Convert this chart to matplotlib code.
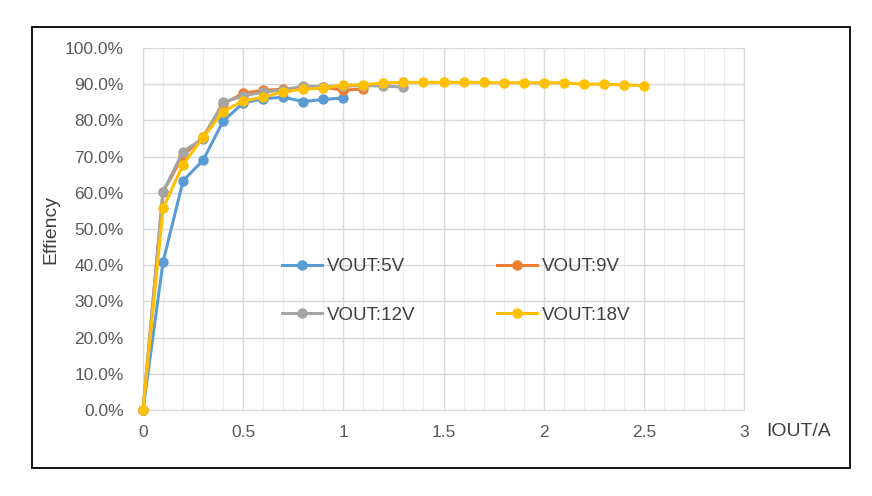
import numpy as np
import matplotlib.pyplot as plt
from matplotlib.patches import Rectangle
from matplotlib.ticker import MultipleLocator, PercentFormatter

plt.rcParams['font.family'] = ['Liberation Sans', 'DejaVu Sans']

# efficiency data (%)
iout_5v = [0, 0.1, 0.2, 0.3, 0.4, 0.5, 0.6, 0.7, 0.8, 0.9, 1.0]
eff_5v = [0, 40.9, 63.3, 69.0, 79.8, 84.8, 86.0, 86.4, 85.2, 85.8, 86.2]

iout_9v = [0, 0.1, 0.2, 0.3, 0.4, 0.5, 0.6, 0.7, 0.8, 0.9, 1.0, 1.1]
eff_9v = [0, 60.3, 70.2, 75.5, 84.5, 87.5, 88.3, 88.6, 89.0, 89.2, 88.3, 88.7]

iout_12v = [0, 0.1, 0.2, 0.3, 0.4, 0.5, 0.6, 0.7, 0.8, 0.9, 1.0, 1.1, 1.2, 1.3]
eff_12v = [0, 60.3, 71.4, 75.0, 85.0, 86.8, 87.8, 88.5, 89.4, 89.3, 89.5, 89.6, 89.5, 89.2]

iout_18v = [0, 0.1, 0.2, 0.3, 0.4, 0.5, 0.6, 0.7, 0.8, 0.9, 1.0, 1.1, 1.2, 1.3,
            1.4, 1.5, 1.6, 1.7, 1.8, 1.9, 2.0, 2.1, 2.2, 2.3, 2.4, 2.5]
eff_18v = [0, 55.7, 67.8, 75.3, 82.4, 85.4, 86.4, 87.9, 88.6, 88.9, 89.8, 89.8, 90.4, 90.5,
           90.5, 90.5, 90.5, 90.5, 90.4, 90.4, 90.4, 90.4, 90.0, 90.0, 89.8, 89.6]

series = [
    (iout_5v, eff_5v, 'VOUT:5V', '#5B9BD5'),
    (iout_9v, eff_9v, 'VOUT:9V', '#ED7D31'),
    (iout_12v, eff_12v, 'VOUT:12V', '#A5A5A5'),
    (iout_18v, eff_18v, 'VOUT:18V', '#FFC000'),
]

W, H = 872, 496
fig = plt.figure(figsize=(W / 100, H / 100), dpi=100)
ax = fig.add_axes([143 / W, 1 - 410 / H, (744 - 143) / W, (410 - 48) / H])

# outer frame
fig.patches.append(Rectangle((32 / W, 1 - 468 / H), (850 - 32) / W, (468 - 27) / H,
                             transform=fig.transFigure, fill=False,
                             edgecolor='black', linewidth=1.3))

lines = {}
for x, y, lab, col in series:
    ln, = ax.plot(x, y, color=col, lw=2.2, marker='o', ms=6.5, label=lab,
                  clip_on=False, zorder=3)
    lines[lab] = ln

ax.set_xlim(0, 3)
ax.set_ylim(0, 100)
ax.xaxis.set_major_locator(MultipleLocator(0.5))
ax.xaxis.set_minor_locator(MultipleLocator(0.1))
ax.yaxis.set_major_locator(MultipleLocator(10))
ax.yaxis.set_major_formatter(PercentFormatter(decimals=1))
ax.xaxis.set_major_formatter(lambda v, p: f'{v:g}')

ax.grid(which='major', color='#D9D9D9', lw=1.0, zorder=0)
ax.grid(which='minor', axis='x', color='#EDEDED', lw=0.9, zorder=0)
ax.set_axisbelow(True)
for s in ax.spines.values():
    s.set_color('#D9D9D9')
ax.tick_params(which='both', length=0, colors='#595959', labelsize=12.5)
ax.tick_params(axis='x', pad=11)
ax.tick_params(axis='y', pad=14)

ax.set_ylabel('Effiency', fontsize=14, color='#404040', labelpad=4)
fig.text(766 / W, 1 - 431 / H, 'IOUT/A', fontsize=14, color='#404040',
         va='center', ha='left')

order = ['VOUT:5V', 'VOUT:12V', 'VOUT:9V', 'VOUT:18V']
ax.legend([lines[k] for k in order], order, ncol=2, frameon=False,
          loc='upper left', bbox_to_anchor=(282 / W, 1 - 258 / H),
          bbox_transform=fig.transFigure, borderpad=0, borderaxespad=0,
          fontsize=13.5, labelcolor='#404040', handlelength=2.13,
          handletextpad=0.27, columnspacing=4.35, labelspacing=1.68)

fig.savefig('out.png', dpi=100)
